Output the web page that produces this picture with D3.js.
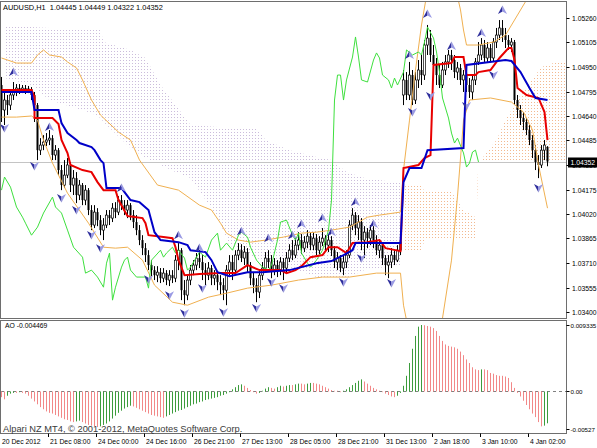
<!DOCTYPE html>
<html><head><meta charset="utf-8">
<script src="https://cdn.jsdelivr.net/npm/d3@7"></script>
<style>body{margin:0;background:#fff}svg{display:block}text{font-family:"Liberation Sans",Arial,sans-serif}</style>
</head><body><svg id="chart" width="597" height="448"></svg>
<script>
// ---------------- DATA ----------------
const openP=[1.04836,1.04678,1.04741,1.04709,1.04773,1.04792,1.04817,1.04804,1.04817,1.04804,
1.04811,1.04773,1.04709,1.04424,1.04456,1.04475,1.04488,1.04500,1.04393,1.04424,
1.04298,1.04203,1.04266,1.04330,1.04203,1.04247,1.04140,1.04203,1.04108,1.04171,
1.04045,1.03950,1.04032,1.03981,1.03918,1.03950,1.04013,1.03994,1.04057,1.04032,
1.04108,1.04076,1.04045,1.04076,1.04013,1.03969,1.03918,1.03855,1.03804,1.03760,
1.03697,1.03665,1.03633,1.03652,1.03614,1.03646,1.03602,1.03633,1.03614,1.03728,
1.03791,1.03538,1.03507,1.03602,1.03665,1.03697,1.03741,1.03716,1.03665,1.03633,
1.03678,1.03614,1.03633,1.03589,1.03570,1.03538,1.03665,1.03716,1.03665,1.03760,
1.03791,1.03741,1.03779,1.03697,1.03614,1.03570,1.03526,1.03633,1.03678,1.03741,
1.03716,1.03665,1.03697,1.03665,1.03716,1.03678,1.03741,1.03791,1.03760,1.03823,
1.03855,1.03804,1.03842,1.03880,1.03823,1.03867,1.03791,1.03842,1.03867,1.03823,
1.03855,1.03791,1.03716,1.03741,1.03678,1.03716,1.03760,1.03950,1.04013,1.03931,
1.03969,1.03855,1.03905,1.03867,1.03918,1.03855,1.03791,1.03823,1.03741,1.03697,
1.03716,1.03760,1.03728,1.03791,1.04773,1.04868,1.04773,1.04899,1.04741,1.04868,
1.04931,1.04899,1.05089,1.05133,1.05026,1.04963,1.04899,1.04836,1.04931,1.04982,
1.05026,1.04994,1.04918,1.04944,1.04868,1.04899,1.04836,1.04792,1.04868,1.04982,
1.05026,1.05089,1.05007,1.05070,1.05007,1.05108,1.05152,1.05197,1.05152,1.05121,
1.05089,1.05108,1.04741,1.04678,1.04627,1.04602,1.04551,1.04488,1.04424,1.04349,
1.04330,1.04424,1.04445];
const highP=[1.04887,1.04792,1.04773,1.04804,1.04855,1.04842,1.04842,1.04836,1.04836,1.04830,
1.04823,1.04792,1.04722,1.04500,1.04519,1.04532,1.04551,1.04519,1.04456,1.04437,
1.04330,1.04361,1.04374,1.04349,1.04298,1.04285,1.04235,1.04216,1.04203,1.04184,
1.04076,1.04076,1.04057,1.04013,1.03994,1.04045,1.04045,1.04089,1.04095,1.04133,
1.04140,1.04108,1.04108,1.04089,1.04045,1.04013,1.03950,1.03886,1.03836,1.03791,
1.03728,1.03690,1.03690,1.03678,1.03678,1.03665,1.03665,1.03665,1.03760,1.03836,
1.03804,1.03602,1.03633,1.03697,1.03728,1.03773,1.03791,1.03760,1.03709,1.03716,
1.03697,1.03665,1.03652,1.03633,1.03614,1.03697,1.03760,1.03760,1.03791,1.03836,
1.03829,1.03817,1.03804,1.03716,1.03652,1.03614,1.03665,1.03716,1.03779,1.03791,
1.03760,1.03741,1.03728,1.03747,1.03741,1.03779,1.03829,1.03855,1.03867,1.03905,
1.03893,1.03880,1.03918,1.03905,1.03905,1.03893,1.03880,1.03931,1.03886,1.03893,
1.03880,1.03817,1.03779,1.03760,1.03754,1.03791,1.03981,1.04057,1.04032,1.04013,
1.03994,1.03943,1.03931,1.03950,1.03943,1.03886,1.03855,1.03842,1.03760,1.03760,
1.03804,1.03791,1.03823,1.03880,1.04931,1.04918,1.04982,1.04931,1.04918,1.04994,
1.05026,1.05121,1.05216,1.05184,1.05089,1.05007,1.04963,1.04982,1.05026,1.05058,
1.05058,1.05026,1.04982,1.04969,1.04931,1.04918,1.04880,1.04899,1.05007,1.05108,
1.05133,1.05121,1.05108,1.05095,1.05133,1.05197,1.05247,1.05247,1.05197,1.05152,
1.05133,1.05121,1.04773,1.04709,1.04665,1.04627,1.04583,1.04519,1.04456,1.04393,
1.04456,1.04488,1.04449];
const lowP=[1.04602,1.04583,1.04646,1.04678,1.04741,1.04766,1.04779,1.04785,1.04779,1.04785,
1.04741,1.04602,1.04361,1.04393,1.04424,1.04450,1.04456,1.04361,1.04361,1.04266,
1.04171,1.04184,1.04247,1.04159,1.04140,1.04089,1.04108,1.04076,1.04076,1.04013,
1.03918,1.03931,1.03943,1.03886,1.03855,1.03931,1.03950,1.03969,1.03994,1.04013,
1.04045,1.04013,1.03994,1.03981,1.03931,1.03886,1.03823,1.03760,1.03716,1.03665,
1.03627,1.03602,1.03589,1.03583,1.03589,1.03570,1.03564,1.03583,1.03589,1.03665,
1.03475,1.03443,1.03475,1.03570,1.03633,1.03665,1.03678,1.03602,1.03570,1.03602,
1.03570,1.03570,1.03538,1.03507,1.03475,1.03443,1.03633,1.03602,1.03633,1.03728,
1.03716,1.03697,1.03652,1.03570,1.03519,1.03462,1.03488,1.03602,1.03652,1.03678,
1.03614,1.03633,1.03621,1.03633,1.03602,1.03652,1.03716,1.03728,1.03741,1.03791,
1.03766,1.03779,1.03804,1.03791,1.03791,1.03760,1.03766,1.03817,1.03791,1.03779,
1.03754,1.03678,1.03665,1.03652,1.03633,1.03678,1.03741,1.03918,1.03886,1.03855,
1.03791,1.03741,1.03804,1.03823,1.03804,1.03760,1.03741,1.03697,1.03633,1.03614,
1.03678,1.03697,1.03716,1.03760,1.04709,1.04741,1.04741,1.04709,1.04716,1.04817,
1.04836,1.04868,1.05026,1.04982,1.04899,1.04836,1.04817,1.04817,1.04899,1.04944,
1.04931,1.04880,1.04868,1.04836,1.04792,1.04792,1.04754,1.04741,1.04836,1.04963,
1.04994,1.04982,1.04982,1.04982,1.04982,1.05070,1.05121,1.05108,1.05070,1.05058,
1.05045,1.04709,1.04627,1.04583,1.04551,1.04519,1.04456,1.04374,1.04298,1.04247,
1.04311,1.04361,1.04322];
const closeP=[1.04678,1.04741,1.04709,1.04773,1.04792,1.04817,1.04804,1.04817,1.04804,1.04811,
1.04773,1.04709,1.04424,1.04456,1.04475,1.04488,1.04500,1.04393,1.04424,1.04298,
1.04203,1.04266,1.04330,1.04203,1.04247,1.04140,1.04203,1.04108,1.04171,1.04045,
1.03950,1.04032,1.03981,1.03918,1.03950,1.04013,1.03994,1.04057,1.04032,1.04108,
1.04076,1.04045,1.04076,1.04013,1.03969,1.03918,1.03855,1.03804,1.03760,1.03697,
1.03665,1.03633,1.03652,1.03614,1.03646,1.03602,1.03633,1.03614,1.03728,1.03791,
1.03538,1.03507,1.03602,1.03665,1.03697,1.03741,1.03716,1.03665,1.03633,1.03678,
1.03614,1.03633,1.03589,1.03570,1.03538,1.03665,1.03716,1.03665,1.03760,1.03791,
1.03741,1.03779,1.03697,1.03614,1.03570,1.03526,1.03633,1.03678,1.03741,1.03716,
1.03665,1.03697,1.03665,1.03716,1.03678,1.03741,1.03791,1.03760,1.03823,1.03855,
1.03804,1.03842,1.03880,1.03823,1.03867,1.03791,1.03842,1.03867,1.03823,1.03855,
1.03791,1.03716,1.03741,1.03678,1.03716,1.03760,1.03950,1.04013,1.03931,1.03969,
1.03855,1.03905,1.03867,1.03918,1.03855,1.03791,1.03823,1.03741,1.03697,1.03716,
1.03760,1.03728,1.03791,1.03842,1.04868,1.04773,1.04899,1.04741,1.04868,1.04931,
1.04899,1.05089,1.05133,1.05026,1.04963,1.04899,1.04836,1.04931,1.04982,1.05026,
1.04994,1.04918,1.04944,1.04868,1.04899,1.04836,1.04792,1.04868,1.04982,1.05026,
1.05089,1.05007,1.05070,1.05007,1.05108,1.05152,1.05197,1.05152,1.05121,1.05089,
1.05108,1.04741,1.04678,1.04627,1.04602,1.04551,1.04488,1.04424,1.04349,1.04330,
1.04424,1.04456,1.04352];

// Ichimoku Tenkan-sen (red) and Kijun-sen (blue): [bar, price]
const tenkan=[[0,1.04804],[10,1.04804],[11,1.04760],[11,1.04627],[17,1.04627],[19,1.04589],[20,1.04488],[22,1.04406],[23,1.04330],[27,1.04298],[30,1.04285],[32,1.04222],[34,1.04171],[38,1.04171],[39,1.04108],[42,1.04007],[47,1.03994],[48,1.03962],[49,1.03886],[54,1.03874],[57,1.03867],[58,1.03810],[59,1.03728],[61,1.03633],[66,1.03640],[73,1.03646],[78,1.03646],[82,1.03697],[86,1.03665],[93,1.03665],[95,1.03646],[98,1.03665],[100,1.03690],[103,1.03747],[107,1.03760],[109,1.03810],[112,1.03810],[115,1.03773],[117,1.03836],[122,1.03842],[126,1.03855],[128,1.03804],[133,1.03785],[134,1.04311],[139,1.04330],[141,1.04374],[143,1.04393],[144,1.04963],[150,1.04975],[151,1.05013],[154,1.05013],[155,1.04899],[158,1.04899],[159,1.04918],[163,1.04931],[166,1.05007],[169,1.05070],[170,1.05070],[171,1.04994],[172,1.04817],[175,1.04773],[179,1.04754],[181,1.04665],[182,1.04488]];
const kijun=[[0,1.04792],[10,1.04792],[11,1.04678],[19,1.04678],[20,1.04595],[22,1.04532],[25,1.04488],[26,1.04469],[30,1.04443],[31,1.04424],[33,1.04361],[34,1.04342],[35,1.04184],[40,1.04184],[43,1.04108],[46,1.04095],[49,1.04045],[51,1.03905],[53,1.03855],[59,1.03842],[62,1.03823],[63,1.03791],[68,1.03779],[70,1.03728],[72,1.03652],[76,1.03627],[82,1.03652],[87,1.03652],[96,1.03665],[100,1.03684],[105,1.03709],[110,1.03722],[114,1.03760],[117,1.03791],[118,1.03836],[133,1.03836],[134,1.04222],[136,1.04311],[140,1.04311],[142,1.04424],[154,1.04437],[155,1.04963],[168,1.04994],[170,1.04988],[173,1.04918],[176,1.04817],[178,1.04754],[182,1.04741]];
// Chikou span (green)
const chikou=[[0,1.04171],[1,1.04254],[3,1.04190],[5,1.04064],[7,1.04000],[8,1.03962],[10,1.03886],[12,1.03937],[14,1.04026],[17,1.04127],[18,1.04064],[20,1.04026],[22,1.03918],[24,1.03810],[27,1.03747],[28,1.03646],[30,1.03665],[32,1.03621],[34,1.03557],[35,1.03709],[36,1.03773],[37,1.03475],[38,1.03557],[40,1.03684],[41,1.03728],[42,1.03747],[43,1.03665],[45,1.03621],[48,1.03621],[49,1.03551],[50,1.03728],[53,1.03791],[54,1.03747],[55,1.03773],[57,1.03810],[58,1.03773],[59,1.03791],[61,1.03741],[62,1.03665],[63,1.03684],[65,1.03747],[66,1.03779],[68,1.03747],[70,1.03855],[72,1.03899],[73,1.03791],[75,1.03836],[77,1.03791],[79,1.03886],[80,1.03905],[82,1.03874],[83,1.03810],[85,1.03728],[87,1.03684],[89,1.03665],[90,1.03697],[92,1.03855],[93,1.03969],[95,1.03981],[97,1.03886],[98,1.03855],[99,1.03899],[100,1.03773],[102,1.03709],[103,1.03684],[105,1.03728],[107,1.03791],[109,1.03918],[110,1.04108],[111,1.04741],[112,1.04899],[113,1.04899],[114,1.04741],[115,1.04868],[117,1.05013],[118,1.05140],[119,1.05013],[120,1.04868],[122,1.04855],[124,1.04994],[125,1.05039],[126,1.05007],[127,1.04899],[129,1.04868],[130,1.04817],[131,1.04880],[132,1.04836],[134,1.04918],[135,1.05058],[137,1.05026],[139,1.05045],[140,1.05026],[141,1.05108],[142,1.05203],[144,1.05133],[145,1.05045],[146,1.04918],[147,1.04754],[149,1.04627],[150,1.04532],[151,1.04469],[152,1.04500],[154,1.04406],[155,1.04317],[156,1.04342],[157,1.04412],[158,1.04424],[159,1.04349]];
// Kumo: Senkou span A / B (shifted forward)
const cloudIdx=[1,10,16,30,33,34,43,48,53,58,63,72,76,85,88,96,105,110,115,121,133,134,140,141,150,154,158,159,165,168,173,180,185,190];
const spanA=[1.04880,1.04836,1.04741,1.04659,1.04627,1.04602,1.04437,1.04374,1.04330,1.04285,1.04247,1.04000,1.03823,1.03741,1.03716,1.03684,1.03621,1.03614,1.03614,1.03665,1.03697,1.04203,1.04203,1.04159,1.04159,1.04045,1.04000,1.04342,1.04488,1.04614,1.04773,1.04950,1.04982,1.04994];
const spanB=[1.05216,1.05203,1.05197,1.05184,1.05184,1.05108,1.05058,1.05007,1.04836,1.04709,1.04583,1.04570,1.04564,1.04564,1.04488,1.04424,1.04380,1.04361,1.04285,1.04247,1.04216,1.03791,1.03791,1.03855,1.03855,1.03855,1.03855,1.04330,1.04330,1.04330,1.04330,1.04330,1.04330,1.04330];
// Bands (orange)
const bandUpper=[[0,1.05007],[5,1.04975],[10,1.04975],[12,1.05026],[14,1.05058],[16,1.05026],[20,1.05013],[22,1.04982],[25,1.04944],[27,1.04868],[30,1.04741],[33,1.04646],[39,1.04538],[43,1.04488],[46,1.04361],[52,1.04203],[59,1.04171],[66,1.04076],[70,1.04045],[73,1.03962],[75,1.03899],[79,1.03855],[83,1.03842],[88,1.03855],[94,1.03874],[100,1.03899],[105,1.03905],[110,1.03918],[116,1.03937],[122,1.04000],[126,1.04013],[133,1.04032],[134,1.04298],[136,1.04614],[138,1.04931],[140,1.05216],[142,1.05437],[146,1.05627],[150,1.05564],[153,1.05311],[154,1.05184],[155,1.05089],[159,1.05089],[164,1.05108],[168,1.05152],[171,1.05247],[175,1.05374],[180,1.05501],[182,1.05564]];
const bandLower=[[0,1.04633],[5,1.04633],[10,1.04640],[12,1.04614],[14,1.04488],[17,1.04342],[22,1.04152],[29,1.03962],[34,1.03810],[38,1.03804],[42,1.03810],[47,1.03728],[51,1.03570],[57,1.03462],[62,1.03443],[69,1.03494],[75,1.03519],[82,1.03551],[90,1.03570],[99,1.03602],[107,1.03621],[116,1.03621],[125,1.03646],[133,1.03646],[134,1.03443],[136,1.03254],[140,1.03064],[145,1.03222],[147,1.03361],[150,1.03728],[152,1.04133],[154,1.04614],[156,1.04741],[163,1.04754],[170,1.04728],[174,1.04665],[177,1.04551],[179,1.04330],[182,1.04057]];
// Fractals
const fractalUp=[[4,1.04874],[16,1.04526],[40,1.04140],[59,1.03842],[66,1.03760],[80,1.03867],[89,1.03823],[97,1.03842],[100,1.03912],[107,1.03950],[110,1.03861],[118,1.04051],[124,1.03912],[136,1.04982],[142,1.05241],[150,1.05039],[160,1.05121],[167,1.05266]];
const fractalDown=[[1,1.04608],[11,1.04368],[20,1.04165],[25,1.04089],[30,1.03931],[33,1.03848],[49,1.03652],[56,1.03551],[61,1.03437],[67,1.03595],[74,1.03443],[85,1.03469],[90,1.03633],[94,1.03595],[114,1.03633],[120,1.03785],[130,1.03627],[137,1.04709],[143,1.04811],[155,1.04747],[164,1.04944],[179,1.04228]];
// Awesome Oscillator
const ao=[-0.0008,-0.0011,-0.0006,-0.0003,-0.0002,-0.0002,-0.0001,-0.0002,-0.0003,-0.0006,
-0.0010,-0.0014,-0.0018,-0.0022,-0.0025,-0.0028,-0.0030,-0.0031,-0.0033,-0.0035,
-0.0037,-0.0039,-0.0040,-0.0042,-0.0043,-0.0042,-0.0041,-0.0043,-0.0045,-0.0047,
-0.0048,-0.0049,-0.0050,-0.0049,-0.0047,-0.0045,-0.0042,-0.0038,-0.0034,-0.0030,
-0.0027,-0.0024,-0.0022,-0.0020,-0.0021,-0.0023,-0.0025,-0.0027,-0.0029,-0.0031,
-0.0033,-0.0034,-0.0035,-0.0036,-0.0037,-0.0035,-0.0033,-0.0031,-0.0029,-0.0027,
-0.0026,-0.0024,-0.0022,-0.0020,-0.0018,-0.0017,-0.0015,-0.0014,-0.0012,-0.0011,
-0.0010,-0.0009,-0.0008,-0.0006,-0.0005,-0.0003,-0.0001,0.0003,0.0006,0.0009,
0.0010,0.0008,0.0005,0.0002,-0.0001,-0.0003,-0.0002,0.0001,0.0004,0.0006,
0.0005,0.0004,0.0006,0.0008,0.0007,0.0008,0.0009,0.0009,0.0010,0.0011,
0.0011,0.0010,0.0011,0.0012,0.0012,0.0011,0.0010,0.0008,0.0006,0.0004,
0.0002,0.0001,0.0001,-0.0001,0.0001,0.0003,0.0006,0.0009,0.0012,0.0015,
0.0017,0.0014,0.0011,0.0008,0.0005,0.0003,0.0001,-0.0001,-0.0003,-0.0005,
-0.0007,-0.0008,-0.0006,-0.0002,0.0008,0.0022,0.0040,0.0060,0.0078,0.0091,
0.009335,0.0093,0.0092,0.0091,0.0089,0.0085,0.0078,0.0071,0.0066,0.0064,
0.0063,0.0062,0.0060,0.0056,0.0051,0.0045,0.0040,0.0034,0.0031,0.0030,
0.0031,0.0031,0.0030,0.0026,0.0025,0.0023,0.0022,0.0022,0.0021,0.0019,
0.0013,0.0005,-0.0002,-0.0007,-0.0013,-0.0019,-0.0025,-0.0031,-0.0036,-0.0043,
-0.0049,-0.0048,-0.004469];
// Axes
const priceTicks=[1.03400,1.03555,1.03710,1.03865,1.04020,1.04175,1.04330,1.04485,1.04640,1.04795,1.04950,1.05105,1.05260];
const aoTicks=[0.009335,0,-0.00527];
const aoTickLabels=["0.009335","0.00","-0.00527"];
const timeIdx=[0,16,32,48,64,80,96,112,128,144,160,176];
const timeLabels=["20 Dec 2012","21 Dec 08:00","24 Dec 00:00","24 Dec 16:00","26 Dec 21:00","27 Dec 13:00","28 Dec 05:00","28 Dec 21:00","31 Dec 13:00","2 Jan 18:00","3 Jan 10:00","4 Jan 02:00"];
const symbol="AUDUSD,H1", bid=1.04352;

// ---------------- CHART ----------------
const svg=d3.select("#chart");
const x=d3.scaleLinear().domain([0,182]).range([1.5,547.5]);
const y=d3.scaleLinear().domain([1.034,1.0526]).range([312,18]);
const yAO=d3.scaleLinear().domain([-0.00527,0.009335]).range([429,325]);
const FS=6.8;
const defs=svg.append("defs");
defs.append("clipPath").attr("id","clipMain").append("rect").attr("x",1).attr("y",2).attr("width",565).attr("height",316);
defs.append("clipPath").attr("id","clipAO").append("rect").attr("x",1).attr("y",321).attr("width",565).attr("height",112);
function dotPattern(id,color){
  const p=defs.append("pattern").attr("id",id).attr("width",3).attr("height",3).attr("patternUnits","userSpaceOnUse");
  p.append("rect").attr("width",1).attr("height",1).attr("fill",color);
}
dotPattern("dotBear","#cbbcdb");
dotPattern("dotBull","#f2b990");

const main=svg.append("g").attr("clip-path","url(#clipMain)");
// cloud
const cloudG=main.append("g");
for(let k=0;k<cloudIdx.length-1;k++){
  const i0=cloudIdx[k],i1=cloudIdx[k+1],a0=spanA[k],a1=spanA[k+1],b0=spanB[k],b1=spanB[k+1];
  const d0=a0-b0,d1=a1-b1,polys=[];
  if(d0*d1<0){
    const t=d0/(d0-d1),im=i0+t*(i1-i0),vm=a0+t*(a1-a0);
    polys.push({p:[[i0,a0],[im,vm],[i0,b0]],bull:d0>0});
    polys.push({p:[[im,vm],[i1,a1],[i1,b1]],bull:d1>0});
  } else polys.push({p:[[i0,a0],[i1,a1],[i1,b1],[i0,b0]],bull:(d0+d1)>0});
  polys.forEach(q=>cloudG.append("polygon")
    .attr("points",q.p.map(r=>x(r[0])+","+y(r[1])).join(" "))
    .attr("fill",q.bull?"url(#dotBull)":"url(#dotBear)"));
}
// bid line
main.append("line").attr("x1",1).attr("x2",566).attr("y1",Math.round(y(bid))+0.5).attr("y2",Math.round(y(bid))+0.5)
  .attr("stroke","#c4c4c4").attr("stroke-width",1);
const line=d3.line().x(d=>x(d[0])).y(d=>y(d[1]));
// candles
const cg=main.append("g");
closeP.forEach((c,i)=>{
  const o=openP[i],xc=x(i);
  cg.append("line").attr("x1",xc).attr("x2",xc).attr("y1",y(highP[i])).attr("y2",y(lowP[i])).attr("stroke","#000").attr("stroke-width",1);
  const top=y(Math.max(o,c)),bot=y(Math.min(o,c));
  cg.append("rect").attr("x",xc-1).attr("y",top).attr("width",2).attr("height",Math.max(1,bot-top))
    .attr("fill",c>=o?"#fff":"#000").attr("stroke","#000").attr("stroke-width",c>=o?0.7:0);
});
// bands
[bandUpper,bandLower].forEach(b=>main.append("path").attr("d",line(b)).attr("fill","none").attr("stroke","#f0b050").attr("stroke-width",1));
// chikou
main.append("path").attr("d",line(chikou)).attr("fill","none").attr("stroke","#3ee03e").attr("stroke-width",1);
// tenkan / kijun
main.append("path").attr("d",line(tenkan)).attr("fill","none").attr("stroke","#e80000").attr("stroke-width",2);
main.append("path").attr("d",line(kijun)).attr("fill","none").attr("stroke","#0000c8").attr("stroke-width",2);
// fractals
const fg=main.append("g");
fractalUp.forEach(f=>{
  const g=fg.append("g").attr("transform",`translate(${x(f[0])},${y(f[1])-7})`);
  g.append("path").attr("d","M0,-4.5L-4.5,4L0,1.5Z").attr("fill","#2e2e9c");
  g.append("path").attr("d","M0,-4.5L4.5,4L0,1.5Z").attr("fill","#9a9ae4");
});
fractalDown.forEach(f=>{
  const g=fg.append("g").attr("transform",`translate(${x(f[0])},${y(f[1])+7})`);
  g.append("path").attr("d","M0,4.5L-4.5,-4L0,-1.5Z").attr("fill","#2e2e9c");
  g.append("path").attr("d","M0,4.5L4.5,-4L0,-1.5Z").attr("fill","#9a9ae4");
});

// AO panel
const aoG=svg.append("g").attr("clip-path","url(#clipAO)");
aoG.append("line").attr("x1",1).attr("x2",566).attr("y1",Math.round(yAO(0))+0.5).attr("y2",Math.round(yAO(0))+0.5)
  .attr("stroke","#808080").attr("stroke-dasharray","3,3");
ao.forEach((v,i)=>{
  const up=i>0&&v>ao[i-1];
  aoG.append("line").attr("x1",x(i)).attr("x2",x(i)).attr("y1",yAO(0)).attr("y2",yAO(v))
    .attr("stroke",up?"#3c9c3c":"#f28888").attr("stroke-width",1);
});

// borders
svg.append("rect").attr("x",0.5).attr("y",1.5).attr("width",566).attr("height",317).attr("fill","none").attr("stroke","#6e6e6e");
svg.append("rect").attr("x",0.5).attr("y",320.5).attr("width",566).attr("height",113).attr("fill","none").attr("stroke","#6e6e6e");

// texts
svg.append("text").attr("x",3).attr("y",10).attr("font-size",7.4).attr("fill","#000").attr("xml:space","preserve")
  .text(symbol+"  "+[openP[182],highP[182],lowP[182],closeP[182]].map(v=>v.toFixed(5)).join(" "));
svg.append("text").attr("x",5).attr("y",328).attr("font-size",FS).attr("fill","#000").text("AO "+ao[182].toFixed(6));
svg.append("text").attr("x",3).attr("y",432).attr("font-size",9.3).attr("fill","#3a3a3a").text("Alpari NZ MT4, © 2001-2012, MetaQuotes Software Corp.");

// price axis
const ax=svg.append("g");
priceTicks.forEach(v=>{
  const yy=Math.round(y(v))+0.5;
  ax.append("line").attr("x1",566.5).attr("x2",569.5).attr("y1",yy).attr("y2",yy).attr("stroke","#000");
  ax.append("text").attr("x",572).attr("y",yy+2.5).attr("font-size",FS).attr("fill","#000").text(v.toFixed(5));
});
aoTicks.forEach((v,k)=>{
  const yy=Math.round(yAO(v))+0.5;
  ax.append("line").attr("x1",566.5).attr("x2",569.5).attr("y1",yy).attr("y2",yy).attr("stroke","#000");
  ax.append("text").attr("x",570.5).attr("y",yy+2.5).attr("font-size",6.2).attr("fill","#000").text(aoTickLabels[k]);
});
// bid label
const by=Math.round(y(bid));
ax.append("rect").attr("x",568).attr("y",by-4.5).attr("width",29).attr("height",10).attr("fill","#000");
ax.append("text").attr("x",570.5).attr("y",by+3).attr("font-size",FS).attr("fill","#fff").text(bid.toFixed(5));

// time axis
timeIdx.forEach((idx,k)=>{
  const tx=Math.round(x(idx)-1.5)+0.5;
  if(k>0) ax.append("line").attr("x1",tx).attr("x2",tx).attr("y1",433.5).attr("y2",437).attr("stroke","#000");
  ax.append("text").attr("x",tx+1.5).attr("y",444).attr("font-size",FS).attr("fill","#000").text(timeLabels[k]);
});
</script>
</body></html>
